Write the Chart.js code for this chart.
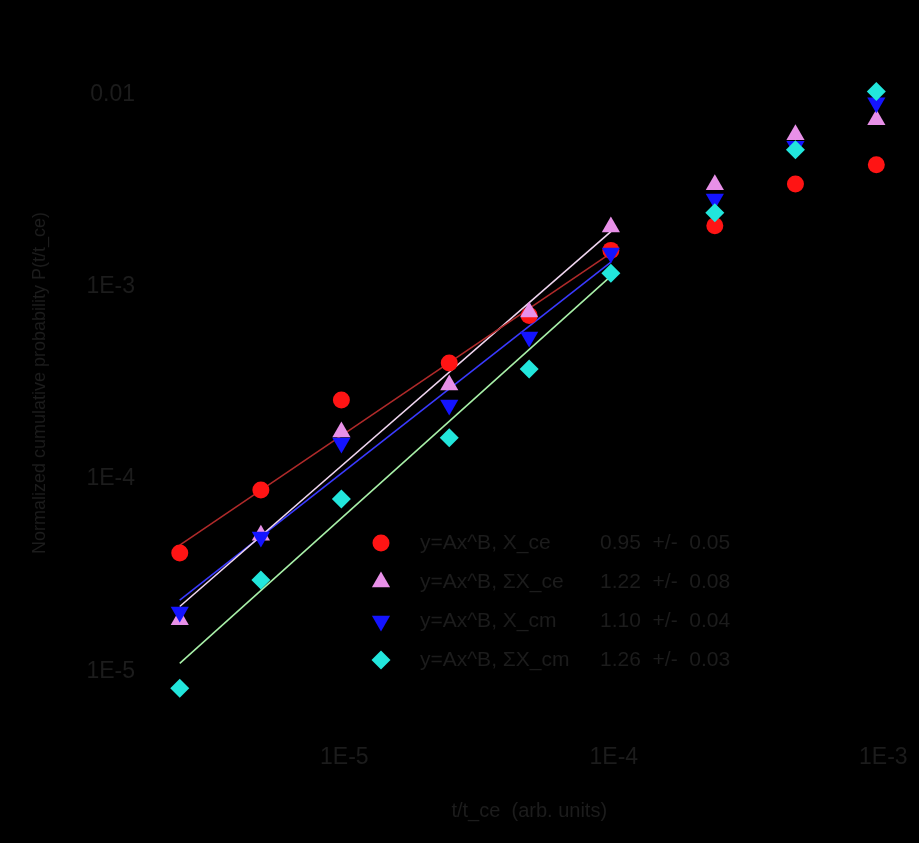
<!DOCTYPE html>
<html>
<head>
<meta charset="utf-8">
<script src="https://cdn.jsdelivr.net/npm/chart.js@4.4.0/dist/chart.umd.min.js"></script>
<style>
  html, body { margin: 0; padding: 0; background: #000; }
  #wrap { width: 919px; height: 843px; }
</style>
</head>
<body>
<div id="wrap"><canvas id="c" width="919" height="843"></canvas></div>
<script>
// Reduced time values shared by all four series
const xValues = [2.45e-6, 4.9e-6, 9.75e-6, 2.45e-5, 4.85e-5, 9.75e-5, 2.37e-4, 4.72e-4, 9.42e-4];

// Measured values per series
const redCircles    = [4.12e-5, 8.77e-5, 2.58e-4, 4.02e-4, 7.1e-4, 1.55e-3, 2.08e-3, 3.43e-3, 4.32e-3];
const pinkTriangles = [1.85e-5, 5.1e-5, 1.76e-4, 3.09e-4, 7.41e-4, 2.05e-3, 3.4e-3, 6.19e-3, 7.41e-3];
const blueTriangles = [2.03e-5, 4.99e-5, 1.54e-4, 2.43e-4, 5.49e-4, 1.5e-3, 2.87e-3, 5.4e-3, 9.09e-3];
const cyanDiamonds  = [8.15e-6, 2.98e-5, 7.87e-5, 1.64e-4, 3.74e-4, 1.18e-3, 2.43e-3, 5.18e-3, 1.04e-2];

// Power-law fits y = A x^B over the low-t range
const fitNames     = ['y=Ax^B, X_ce', 'y=Ax^B, ΣX_ce', 'y=Ax^B, X_cm', 'y=Ax^B, ΣX_cm'];
const fitExponents = [0.95, 1.22, 1.10, 1.26];
const fitErrors    = [0.05, 0.08, 0.04, 0.03];
const fitAmplitudes = [9.7, 152, 34.8, 129];
const fitRange     = [2.45e-6, 9.75e-5];

// Axis decades and their labels
const xTickValues = [1e-5, 1e-4, 1e-3];
const xTickLabels = ['1E-5', '1E-4', '1E-3'];
const yTickValues = [1e-5, 1e-4, 1e-3, 1e-2];
const yTickLabels = ['1E-5', '1E-4', '1E-3', '0.01'];

const xTitle = 't/t_ce  (arb. units)';
const yTitle = 'Normalized cumulative probability P(t/t_ce)';

const textColor = '#1c1c1c';
const fontFamily = '"Liberation Sans", Arial, sans-serif';

const markerStyles = [
  { color: '#ff1414', pointStyle: 'circle', rotation: 0, radius: 8.5 },
  { color: '#e890e8', pointStyle: 'triangle', rotation: 0, radius: 10.5 },
  { color: '#1414ff', pointStyle: 'triangle', rotation: 180, radius: 10.5 },
  { color: '#22e6dc', pointStyle: 'rectRot', rotation: 0, radius: 9.5 }
];
const lineColors = ['#b02a2a', '#f0d6f0', '#3a3aff', '#a8f0a8'];

const seriesValues = [redCircles, pinkTriangles, blueTriangles, cyanDiamonds];

function toPoints(ys) {
  return ys.map((y, i) => ({ x: xValues[i], y: y }));
}

function fitLine(k) {
  return fitRange.map(x => ({ x: x, y: fitAmplitudes[k] * Math.pow(x, fitExponents[k]) }));
}

const datasets = [];
seriesValues.forEach((ys, k) => {
  const m = markerStyles[k];
  datasets.push({
    label: fitNames[k],
    data: toPoints(ys),
    showLine: false,
    pointStyle: m.pointStyle,
    rotation: m.rotation,
    pointRadius: m.radius,
    pointBackgroundColor: m.color,
    pointBorderColor: m.color,
    pointBorderWidth: 0,
    order: 4 - k
  });
});
seriesValues.forEach((ys, k) => {
  datasets.push({
    label: fitNames[k] + ' fit',
    data: fitLine(k),
    showLine: true,
    pointRadius: 0,
    borderColor: lineColors[k],
    borderWidth: 1.6,
    order: 10
  });
});

const blackBackground = {
  id: 'blackBackground',
  beforeDraw(chart) {
    const ctx = chart.ctx;
    ctx.save();
    ctx.fillStyle = '#000';
    ctx.fillRect(0, 0, chart.width, chart.height);
    ctx.restore();
  }
};

// Legend block drawn inside the plot area
const insideLegend = {
  id: 'insideLegend',
  afterDraw(chart, args, opts) {
    const ctx = chart.ctx;
    ctx.save();
    ctx.font = '21px ' + fontFamily;
    ctx.textBaseline = 'middle';
    ctx.textAlign = 'left';
    fitNames.forEach((name, k) => {
      const m = markerStyles[k];
      const y = opts.top + k * opts.rowGap;
      ctx.fillStyle = m.color;
      ctx.strokeStyle = m.color;
      ctx.lineWidth = 0;
      Chart.helpers.drawPoint(ctx, {
        pointStyle: m.pointStyle, rotation: m.rotation, radius: m.radius, borderWidth: 0
      }, opts.markerX, y);
      ctx.fillStyle = textColor;
      ctx.fillText(name, opts.textX, y);
      ctx.fillText(fitExponents[k].toFixed(2) + '  +/-  ' + fitErrors[k].toFixed(2), opts.valueX, y);
    });
    ctx.restore();
  }
};

function keepTicks(values) {
  return function (scale) {
    scale.ticks = values.map(v => ({ value: v }));
  };
}

new Chart(document.getElementById('c'), {
  type: 'scatter',
  data: { datasets: datasets },
  plugins: [blackBackground, insideLegend],
  options: {
    responsive: false,
    animation: false,
    events: [],
    layout: { padding: { left: 20, right: 9, top: 37, bottom: 20 } },
    plugins: {
      legend: { display: false },
      tooltip: { enabled: false },
      insideLegend: { markerX: 381, textX: 420, valueX: 600, top: 543, rowGap: 39 }
    },
    scales: {
      x: {
        type: 'logarithmic',
        min: 1.9e-6,
        max: 1.24e-3,
        afterBuildTicks: keepTicks(xTickValues),
        afterFit(scale) {
          scale.height = 94;
          scale.paddingLeft = 0;
          scale.paddingRight = 0;
        },
        grid: { display: false, drawTicks: false },
        border: { display: false },
        ticks: {
          padding: 15,
          color: textColor,
          font: { family: fontFamily, size: 23 },
          maxRotation: 0,
          autoSkip: false,
          callback(v) { const i = xTickValues.indexOf(v); return i >= 0 ? xTickLabels[i] : ''; }
        },
        title: {
          display: true,
          text: xTitle,
          color: textColor,
          font: { family: fontFamily, size: 20 },
          padding: { top: 11, bottom: 0 }
        }
      },
      y: {
        type: 'logarithmic',
        min: 5e-6,
        max: 2e-2,
        afterBuildTicks: keepTicks(yTickValues),
        afterFit(scale) {
          scale.width = 130;
          scale.paddingTop = 0;
          scale.paddingBottom = 0;
        },
        grid: { display: false, drawTicks: false },
        border: { display: false },
        ticks: {
          padding: 15,
          color: textColor,
          font: { family: fontFamily, size: 23 },
          autoSkip: false,
          callback(v) { const i = yTickValues.indexOf(v); return i >= 0 ? yTickLabels[i] : ''; }
        },
        title: {
          display: true,
          text: yTitle,
          color: textColor,
          font: { family: fontFamily, size: 18 },
          padding: { top: 9, bottom: 0 }
        }
      }
    }
  }
});
</script>
</body>
</html>
